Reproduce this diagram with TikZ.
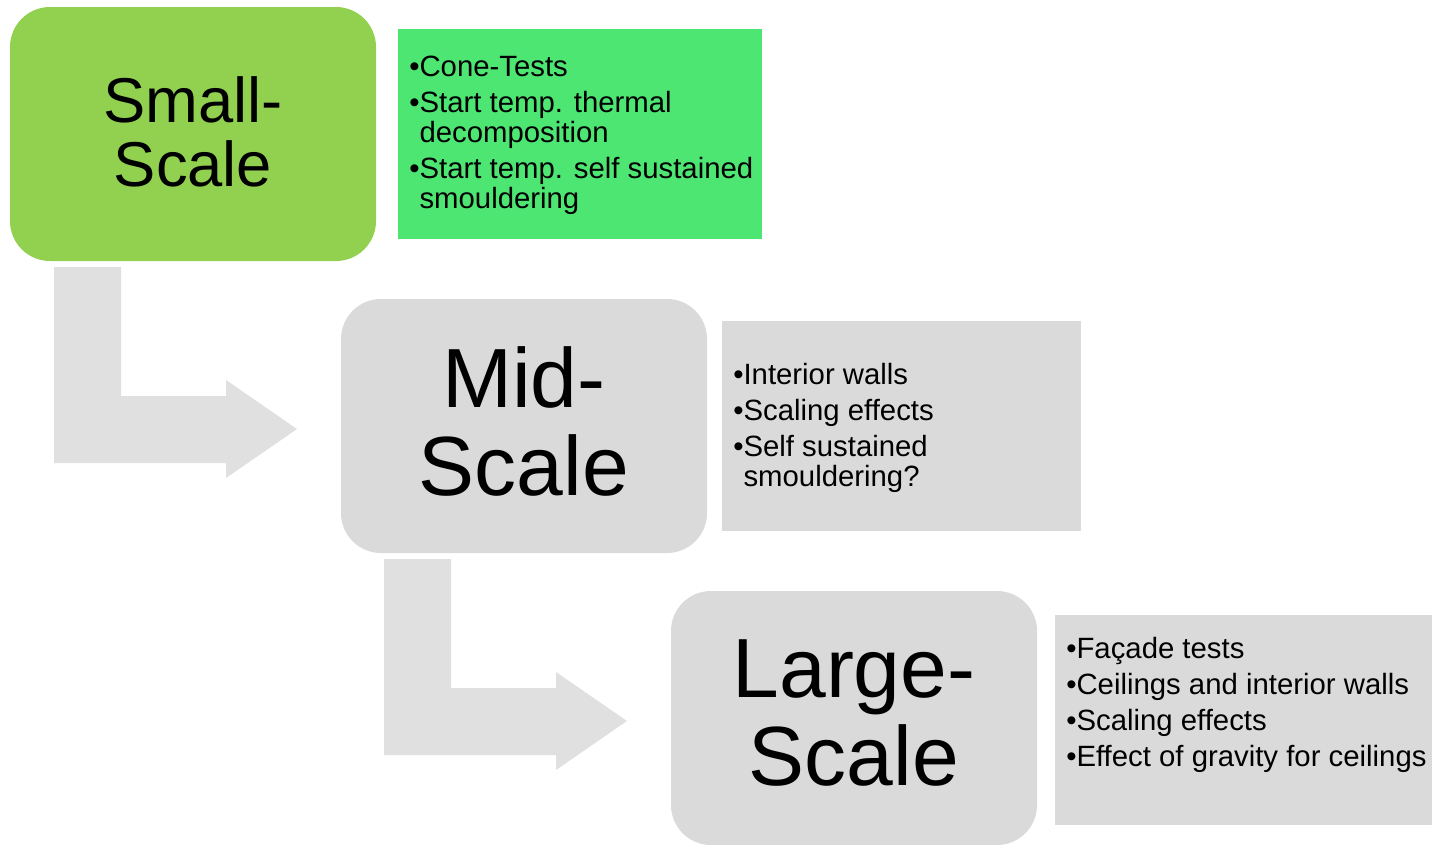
\documentclass[tikz,border=0pt]{standalone}
\usepackage{fontspec}
\setmainfont{Liberation Sans}
\definecolor{smallgreen}{HTML}{92D050}
\definecolor{listgreen}{HTML}{4EE673}
\definecolor{boxgrey}{HTML}{DADADA}
\definecolor{arrowgrey}{HTML}{E0E0E0}
\newcommand{\itemfont}{\fontsize{22}{22.5}\selectfont}
\newcommand{\nb}{\phantom{\textbullet}}
\tikzset{
  scalebox/.style={rounded corners=30pt, minimum width=274.5pt, minimum height=190.5pt,
    inner sep=0pt, align=center},
  listbox/.style={anchor=north west, minimum height=157pt, inner sep=0pt},
  listtext/.style={anchor=north west, inner sep=0pt, align=left, font=\itemfont}
}
\begin{document}
\begin{tikzpicture}[x=0.75pt,y=-0.75pt]
  \useasboundingbox (0,0) rectangle (1432,844);
  % bent arrows between the levels
  \foreach \dx/\dy in {0/0,330/292}
    \fill [arrowgrey,shift={(\dx,\dy)}] (54,267) -- (121,267) -- (121,396) -- (226,396) -- (226,380)
      -- (297,429) -- (226,478) -- (226,463) -- (54,463) -- cycle;
  % the three scales
  \node [scalebox,fill=smallgreen] (small) at (193,134) {};
  \node [scalebox,fill=boxgrey] (mid) at (524,426) {};
  \node [scalebox,fill=boxgrey] (large) at (854,718) {};
  \node [align=center,font=\fontsize{47.5}{48}\selectfont] (smalltitle) at (193,132) {Small-\\Scale};
  \node [align=center,font=\fontsize{63}{66}\selectfont] (midtitle) at (524,421) {Mid-\\Scale};
  \node [align=center,font=\fontsize{63}{66}\selectfont] (largetitle) at (854,713) {Large-\\Scale};
  % lists
  \node [listbox,fill=listgreen,minimum width=273pt] (smallbox) at (398,29) {};
  \node [listbox,fill=boxgrey,minimum width=269.25pt] (midbox) at (722,321) {};
  \node [listbox,fill=boxgrey,minimum width=290pt] (largebox) at (1055,615) {};
  \node [listtext] (smalllist) at (409,56) {\textbullet Cone-Tests\\[4.5pt]
    \textbullet Start temp. thermal\\\nb decomposition\\[4.5pt]
    \textbullet Start temp. self sustained\\\nb smouldering};
  \node [listtext] (midlist) at (733,363) {\textbullet Interior walls\\[4.5pt]
    \textbullet Scaling effects\\[4.5pt]
    \textbullet Self sustained\\\nb smouldering?};
  \node [listtext] (largelist) at (1066,637) {\textbullet Façade tests\\[4.5pt]
    \textbullet Ceilings and interior walls\\[4.5pt]
    \textbullet Scaling effects\\[4.5pt]
    \textbullet Effect of gravity for ceilings};
\end{tikzpicture}
\end{document}
